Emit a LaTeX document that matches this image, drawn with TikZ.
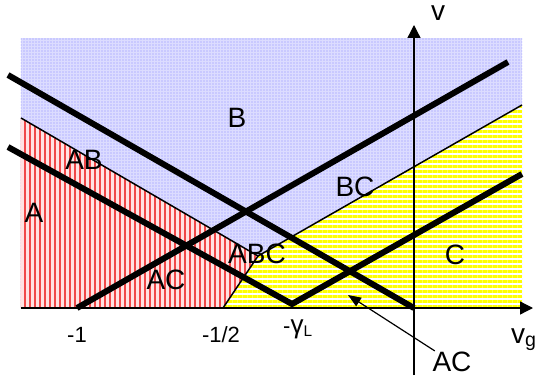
\documentclass[tikz,border=0pt]{standalone}
\usepackage{fontspec}
\setmainfont{Liberation Sans}
\usetikzlibrary{arrows.meta,patterns.meta}
\definecolor{bluebg}{HTML}{DCDCFF}
\definecolor{bluedot}{HTML}{8C8CFF}
\definecolor{redbg}{HTML}{FFE2E2}
\definecolor{redline}{HTML}{F04848}
\definecolor{yel}{HTML}{FFFF00}

\begin{document}
\begin{tikzpicture}[x=1pt,y=1pt,
  lbl/.style={inner sep=0pt,font=\fontsize{28}{30}\selectfont},
  ticklbl/.style={inner sep=0pt,font=\fontsize{22}{24}\selectfont},
  heavy/.style={line width=6pt},
  axis/.style={line width=1.3pt,-{Triangle[length=13pt,width=13pt]}}]
\useasboundingbox (-414,-73) rectangle (123,308);
% regions
\fill[bluebg] (-393,0) rectangle (108,270);
\fill[pattern={Dots[distance=3pt,radius=.6pt]},pattern color=bluedot] (-393,0) rectangle (108,270);
\fill[redbg] (-393,190)--(-156,52)--(-191,0)--(-393,0)--cycle;
\fill[pattern={Lines[angle=90,distance=5pt,line width=2pt]},pattern color=redline] (-393,190)--(-156,52)--(-191,0)--(-393,0)--cycle;
\fill[white] (-191,0)--(-156,52)--(108,203)--(108,0)--cycle;
\fill[pattern={Lines[angle=0,distance=5pt,line width=3pt]},pattern color=yel] (-191,0)--(-156,52)--(108,203)--(108,0)--cycle;
\draw[line width=1.5pt] (-393,190)--(-156,52)--(-191,0);
\draw[line width=1.5pt] (-156,52)--(108,203);
% heavy lines
\draw[heavy] (-406,233)--(0,0);
\draw[heavy] (-406,161)--(-122,4)--(108,134);
\draw[heavy] (-337,0)--(94,246);
% axes
\draw[axis] (-393,0)--(119,0);
\draw[axis] (0,-67)--(0,283);
\node[lbl,anchor=base] (v) at (24,287){v};
\node[lbl,anchor=base west] (vg) at (97,-35){v\textsubscript{g}};
\node[ticklbl,anchor=base] (m1) at (-337,-34){-1};
\node[ticklbl,anchor=base] (mh) at (-193,-34){-1/2};
\node[ticklbl,anchor=base west] (mgam) at (-131,-25){-{\fontsize{26}{26}\selectfont γ}\textsubscript{L}};
% region labels
\node[lbl] (B) at (-177,190){B};
\node[lbl] (AB) at (-330,148){AB};
\node[lbl] (A) at (-380,95){A};
\node[lbl] (AC) at (-248,28){AC};
\node[lbl] (ABC) at (-157,54){ABC};
\node[lbl] (BC) at (-59,121){BC};
\node[lbl] (C) at (41,53){C};
\node[lbl,inner sep=1pt] (ACr) at (38,-54){AC};
\coordinate (acpt) at (-66,13);
\draw[line width=1.2pt,-{Triangle[length=13pt,width=10pt]}] (ACr)--(acpt);
\end{tikzpicture}
\end{document}
